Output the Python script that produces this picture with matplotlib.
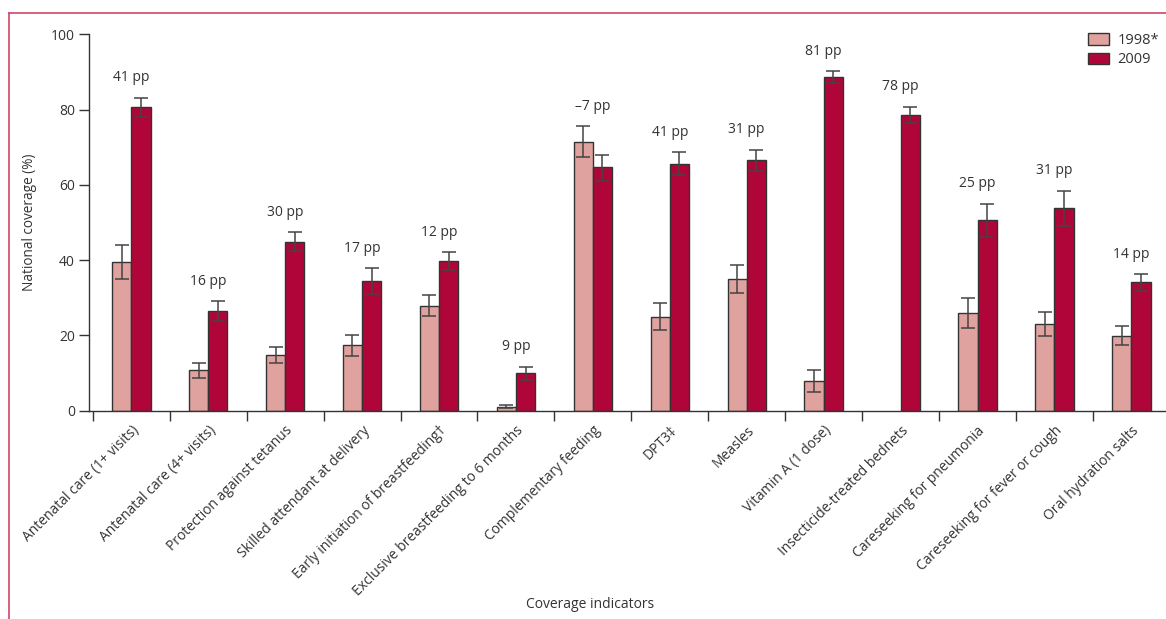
import matplotlib
matplotlib.use("Agg")
import matplotlib.pyplot as plt
from matplotlib.lines import Line2D
from matplotlib.patches import Patch
import numpy as np

plt.rcParams['font.family'] = ['Open Sans', 'DejaVu Sans']

categories = [
    "Antenatal care (1+ visits)",
    "Antenatal care (4+ visits)",
    "Protection against tetanus",
    "Skilled attendant at delivery",
    "Early initiation of breastfeeding\u2020",
    "Exclusive breastfeeding to 6 months",
    "Complementary feeding",
    "DPT3\u2021",
    "Measles",
    "Vitamin A (1 dose)",
    "Insecticide-treated bednets",
    "Careseeking for pneumonia",
    "Careseeking for fever or cough",
    "Oral hydration salts",
]
v1998 = [39.4, 10.8, 14.9, 17.4, 27.9, 1.0, 71.5, 25.0, 35.0, 7.9, 0.0, 26.0, 23.0, 19.9]
lo1998 = [35.1, 8.7, 12.6, 14.5, 25.1, 0.6, 67.3, 21.4, 31.3, 4.9, np.nan, 22.0, 19.8, 17.5]
hi1998 = [43.9, 12.6, 17.0, 20.1, 30.7, 1.4, 75.6, 28.6, 38.7, 10.9, np.nan, 30.0, 26.1, 22.5]
v2009 = [80.7, 26.4, 44.9, 34.4, 39.8, 9.9, 64.7, 65.5, 66.5, 88.7, 78.6, 50.6, 53.8, 34.1]
lo2009 = [78.0, 23.8, 42.5, 30.9, 37.5, 8.2, 61.1, 62.5, 63.6, 87.1, 76.5, 46.1, 49.2, 31.9]
hi2009 = [83.2, 29.1, 47.4, 37.8, 42.1, 11.7, 68.0, 68.7, 69.3, 90.2, 80.8, 55.0, 58.4, 36.3]
changes = ["41 pp", "16 pp", "30 pp", "17 pp", "12 pp", "9 pp", "\u20137 pp",
           "41 pp", "31 pp", "81 pp", "78 pp", "25 pp", "31 pp", "14 pp"]
series_names = ["1998*", "2009"]

c_light = "#e0a29f"
c_dark = "#b00538"
edge = "#333333"
txt = "#333333"

W, H = 1166, 619
fig = plt.figure(figsize=(W / 100, H / 100), dpi=100)
ax = fig.add_axes([89 / W, 1 - 410.7 / H, (W - 89) / W, (410.7 - 34.3) / H])

x = np.arange(len(categories))
bw = 0.25
v1 = np.array(v1998); v2 = np.array(v2009)
l1 = np.array(lo1998); h1 = np.array(hi1998)
l2 = np.array(lo2009); h2 = np.array(hi2009)

has1 = v1 > 0
ax.bar(x[has1] - bw / 2, v1[has1], bw, color=c_light, edgecolor=edge, linewidth=1.0, zorder=2)
ax.bar(x + bw / 2, v2, bw, color=c_dark, edgecolor=edge, linewidth=1.0, zorder=2)

ek = dict(fmt='none', ecolor='#444444', elinewidth=1.1, capsize=5, capthick=1.1, zorder=3)
ax.errorbar(x[has1] - bw / 2, v1[has1], yerr=[v1[has1] - l1[has1], h1[has1] - v1[has1]], **ek)
ax.errorbar(x + bw / 2, v2, yerr=[v2 - l2, h2 - v2], **ek)

tops = np.nanmax(np.vstack([h1, h2]), axis=0)
for xi, t, lab in zip(x, tops, changes):
    ax.text(xi, t + 5.3, lab, ha='center', va='center', fontsize=10, color=txt)

ax.set_xlim(-0.55, 13.45)
ax.set_ylim(0, 100)
ax.set_yticks([0, 20, 40, 60, 80, 100])
ax.set_xticks(x - 0.5, minor=False)
ax.set_xticklabels([])
ax.set_xticks(x, minor=True)
ax.set_xticklabels(categories, minor=True, rotation=45, ha='right', rotation_mode='anchor',
                   fontsize=10, color=txt)
ax.tick_params(axis='x', which='minor', length=0, pad=9)
ax.tick_params(axis='x', which='major', length=7, width=1.0, color=edge, direction='out')
ax.tick_params(axis='y', length=7, width=1.0, color=edge, labelsize=10, labelcolor=txt, pad=3)
for s in ['top', 'right']:
    ax.spines[s].set_visible(False)
for s in ['left', 'bottom']:
    ax.spines[s].set_color(edge)
    ax.spines[s].set_linewidth(1.0)
ax.set_ylabel("National coverage (%)", fontsize=9.8, color=txt, labelpad=10)

fig.text(590 / W, 1 - 604 / H, "Coverage indicators", ha='center', va='center', fontsize=10, color=txt)

handles = [Patch(facecolor=c_light, edgecolor=edge, linewidth=1.0),
           Patch(facecolor=c_dark, edgecolor=edge, linewidth=1.0)]
fig.legend(handles, series_names, loc='upper left', bbox_to_anchor=(1075 / W, 1 - 20 / H),
           frameon=False, fontsize=10.5, handlelength=1.4, handleheight=0.85,
           labelspacing=0.3, handletextpad=0.6, labelcolor=txt)

frame_c = "#d2456a"
fig.add_artist(Line2D([9 / W, 1], [1 - 12.7 / H, 1 - 12.7 / H], color=frame_c, lw=1.2,
                      transform=fig.transFigure))
fig.add_artist(Line2D([9 / W, 9 / W], [0, 1 - 12.7 / H], color=frame_c, lw=1.2,
                      transform=fig.transFigure))

fig.savefig("out.png", dpi=100)
